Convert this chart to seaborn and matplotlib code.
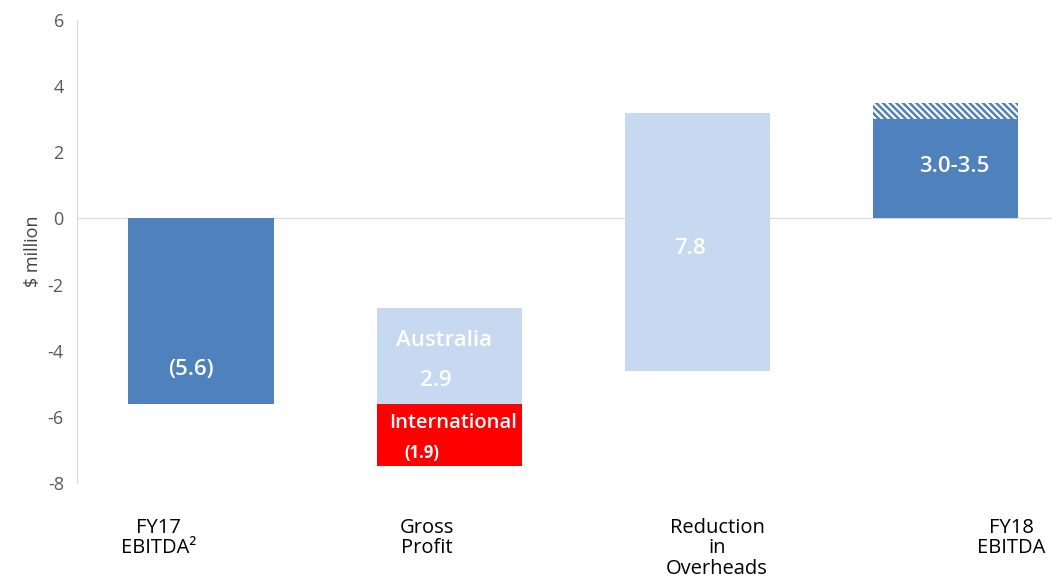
import numpy as np
import pandas as pd
import matplotlib.pyplot as plt
import seaborn as sns

# ==========================================================
# Data
# ==========================================================

categories = ["FY17 EBITDA", "Gross Profit", "Reduction in Overheads", "FY18 EBITDA"]
cat_labels = ["FY17\nEBITDA\u00b2", "Gross\nProfit", "Reduction\nin\nOverheads", "FY18\nEBITDA"]

# bar segments: category index, bottom, top
seg_cat = [0, 1, 1, 2, 3]
seg_bottom = [0.0, -5.6, -5.6, -4.6, 0.0]
seg_top = [-5.6, -2.7, -7.5, 3.2, 3.0]
seg_color = ["#4F81BD", "#C6D9F1", "#FF0000", "#C6D9F1", "#4F81BD"]

# FY18 range upper part (hatched)
range_low = 3.0
range_high = 3.5

yticks = [-8, -6, -4, -2, 0, 2, 4, 6]

sns.set_style("white")
plt.rcParams['font.family'] = ['Open Sans', 'DejaVu Sans']

fig = plt.figure(figsize=(10.52, 5.88), dpi=100)
ax = fig.add_axes([77 / 1052, 1 - 483 / 588, 1 - 77 / 1052, (483 - 20) / 588])

bar_w = 0.585
grey = "#D9D9D9"

# ==========================================================
# Bars
# ==========================================================

for c, b, t, col in zip(seg_cat, seg_bottom, seg_top, seg_color):
    df = pd.DataFrame({"cat": [categories[c]], "h": [t - b]})
    sns.barplot(data=df, x="cat", y="h", order=categories, bottom=b,
                color=col, saturation=1, width=bar_w, ax=ax, linewidth=0)

plt.rcParams['hatch.linewidth'] = 1.8
plt.rcParams['hatch.color'] = "#4F81BD"
ax.bar(3, range_high - range_low, width=bar_w, bottom=range_low,
       facecolor="white", edgecolor="#4F81BD", hatch="\\\\\\\\\\", linewidth=0)

# ==========================================================
# Value labels
# ==========================================================

lab_kw = dict(color="white", fontweight="semibold", ha="center", va="center")
ax.text(-0.04, -4.57, "(5.6)", fontsize=16, **lab_kw)
ax.text(0.98, -3.7, "Australia", fontsize=16, **lab_kw)
ax.text(0.946, -4.9, "2.9", fontsize=16, **lab_kw)
intl = ax.text(0.757, -6.2, "International", color="white", fontsize=14.5,
               fontweight="semibold", ha="left", va="center")
intl.set_clip_path(ax.patches[2])
ax.text(0.89, -7.08, "(1.9)", fontsize=12, color="white", fontweight="bold",
        ha="center", va="center")
ax.text(1.97, -0.92, "7.8", fontsize=16, **lab_kw)
ax.text(3.035, 1.57, "3.0-3.5", fontsize=16, **lab_kw)

# ==========================================================
# Axes styling
# ==========================================================

ax.set_xlim(-0.5, 3.43)
ax.set_ylim(-8, 6)
ax.set_yticks(yticks)
ax.set_yticklabels([str(v) for v in yticks], color="#595959", fontsize=13)
ax.set_ylabel("$ million", color="#404040", fontsize=13, labelpad=4)
ax.set_xlabel("")

ax.spines['top'].set_visible(False)
ax.spines['right'].set_visible(False)
ax.spines['left'].set_color(grey)
ax.spines['bottom'].set_color(grey)
ax.spines['bottom'].set_position(('data', 0))
ax.spines['bottom'].set_zorder(0)

ax.set_xticks(np.arange(len(categories) - 1) + 0.5)
ax.set_xticklabels([])
ax.tick_params(axis='x', direction='out', length=5, color=grey, width=1)
ax.tick_params(axis='y', direction='out', length=6, color=grey, width=1)

# category labels under the plot
label_x = [-0.17, 0.91, 2.08, 3.265]
for lx, lab in zip(label_x, cat_labels):
    ax.text(lx, -0.075, lab, transform=ax.get_xaxis_transform(),
            ha="center", va="top", fontsize=14.5, color="black",
            linespacing=1.05)

plt.savefig("out.png", dpi=100)
